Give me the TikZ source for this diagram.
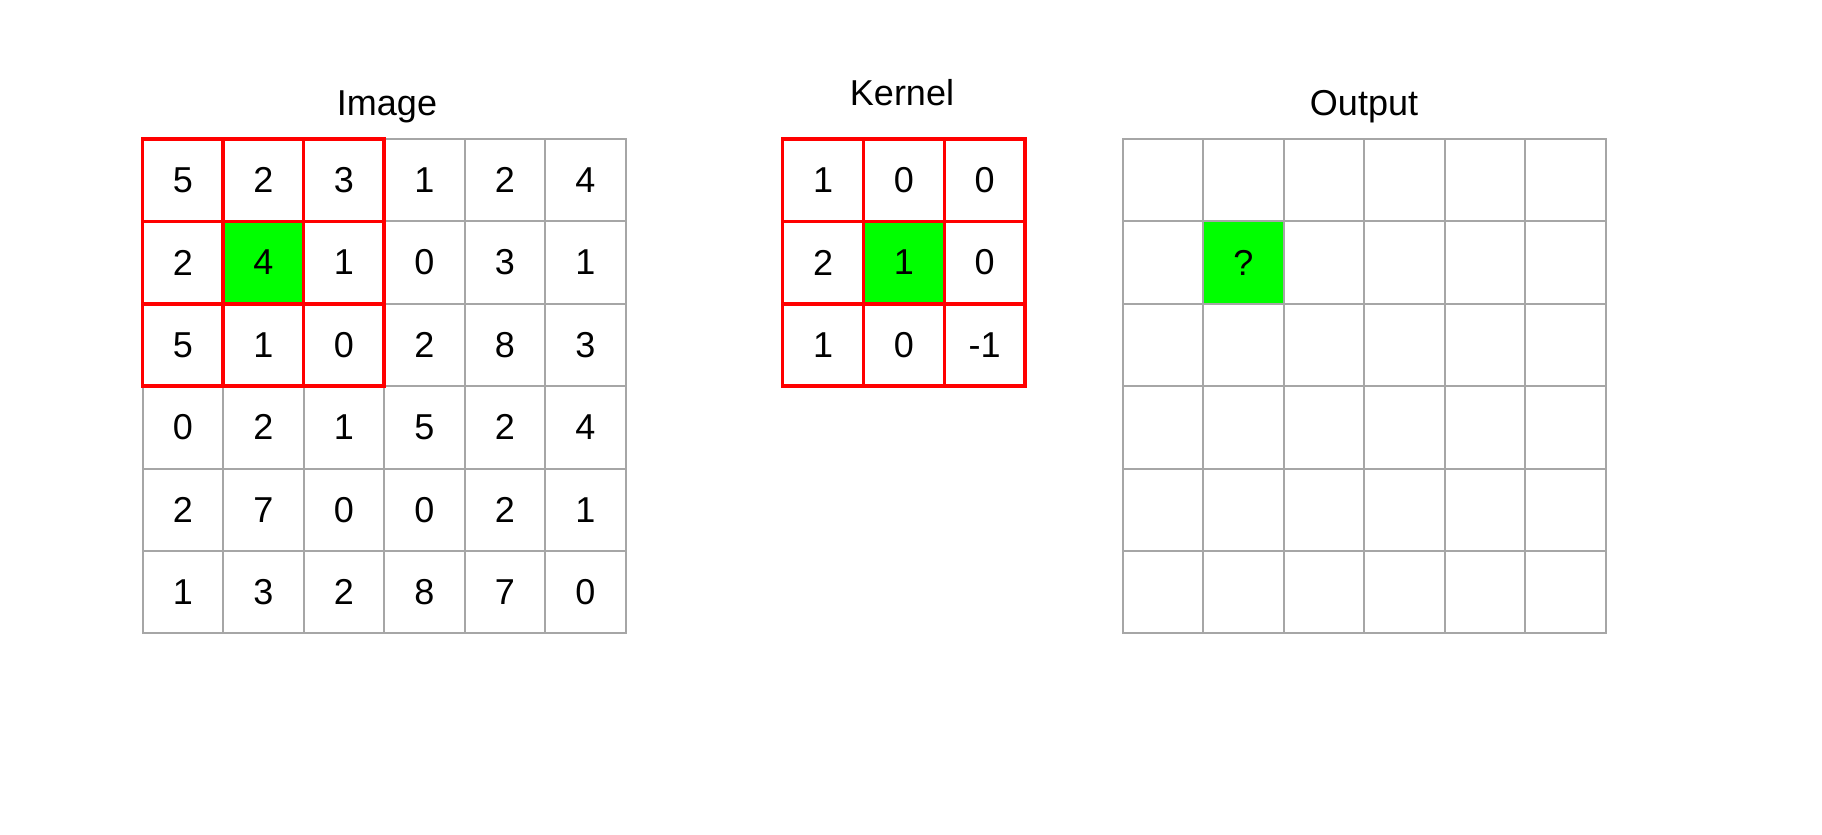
\documentclass[tikz,border=0pt]{standalone}
\usepackage{fontspec}
\setmainfont{Liberation Sans}
\definecolor{gridgray}{HTML}{A6A6A6}
\definecolor{hlgreen}{HTML}{00FF00}
\definecolor{winred}{HTML}{FF0000}
\begin{document}
\begin{tikzpicture}[x=0.5pt,y=-0.5pt,
  cell/.style={draw=gridgray, line width=1pt, minimum width=40.25pt, minimum height=41.2pt, inner sep=0pt, outer sep=0pt, font=\fontsize{18}{20}\selectfont, text=black},
  kcell/.style={cell, draw=winred, line width=1.75pt, minimum width=40.4pt},
  redline/.style={draw=winred, line width=1.75pt},
  title/.style={anchor=base, inner sep=0pt, font=\fontsize{18}{20}\selectfont}]
\useasboundingbox (0,0) rectangle (1822,835);
\fill[white] (0,0) rectangle (1822,835);
% titles
\node[title] (timg) at (387,115) {Image};
\node[title] (tker) at (902,105) {Kernel};
\node[title] (tout) at (1364,115) {Output};
% image grid
\foreach \row [count=\r from 0] in {{5,2,3,1,2,4},{2,4,1,0,3,1},{5,1,0,2,8,3},{0,2,1,5,2,4},{2,7,0,0,2,1},{1,3,2,8,7,0}}{
  \foreach \v [count=\c from 0] in \row {
    \def\fillc{none}\ifnum\r\c=11 \def\fillc{hlgreen}\fi
    \node[cell, fill=\fillc] (img-\r-\c) at ({142.7+80.5*(\c+0.5)},{139+82.4*(\r+0.5)}) {\v};
  }
}
% red window over image
\foreach \r in {0,1,2}{
  \foreach \c in {0,1,2}{
    \draw[redline] (img-\r-\c.north west) rectangle (img-\r-\c.south east);
  }
}
% kernel
\foreach \row [count=\r from 0] in {{1,0,0},{2,1,0},{1,0,-1}}{
  \foreach \v [count=\c from 0] in \row {
    \def\fillc{none}\ifnum\r\c=11 \def\fillc{hlgreen}\fi
    \node[kcell, fill=\fillc] (ker-\r-\c) at ({782.7+80.8*(\c+0.5)},{139+82.4*(\r+0.5)}) {\v};
  }
}
% output
\foreach \r in {0,...,5}{
  \foreach \c in {0,...,5}{
    \def\fillc{none}\def\txt{}\ifnum\r\c=11 \def\fillc{hlgreen}\def\txt{?}\fi
    \node[cell, fill=\fillc] (out-\r-\c) at ({1122.7+80.5*(\c+0.5)},{139+82.4*(\r+0.5)}) {\txt};
  }
}
\end{tikzpicture}
\end{document}
